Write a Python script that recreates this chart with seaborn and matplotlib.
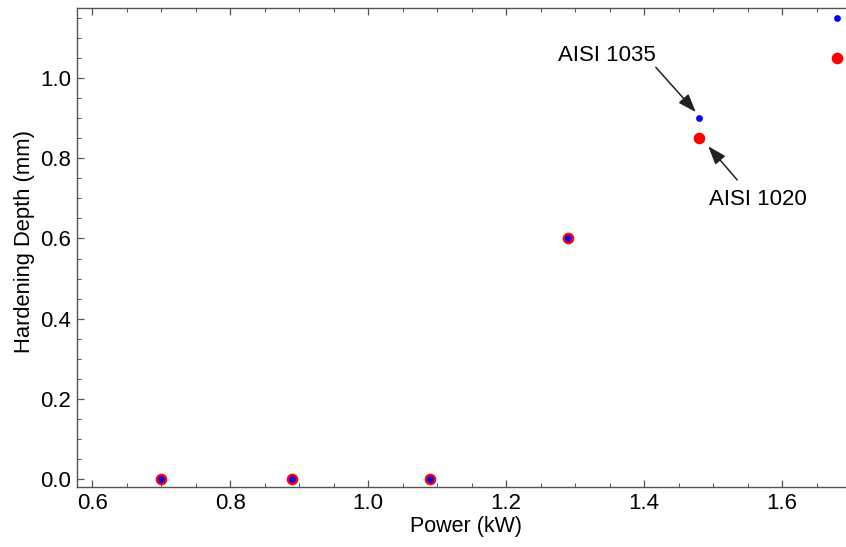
import matplotlib
matplotlib.use("Agg")
import matplotlib.pyplot as plt
from matplotlib.ticker import MultipleLocator
import seaborn as sns
import pandas as pd

power_kw = [0.70, 0.89, 1.09, 1.29, 1.48, 1.68]
depth_aisi1020 = [0.0, 0.0, 0.0, 0.60, 0.85, 1.05]
depth_aisi1035 = [0.0, 0.0, 0.0, 0.60, 0.90, 1.15]

sns.set_theme(style="ticks")
plt.rcParams["font.family"] = ["Liberation Sans", "DejaVu Sans"]

df1020 = pd.DataFrame({"Power": power_kw, "Depth": depth_aisi1020})
df1035 = pd.DataFrame({"Power": power_kw, "Depth": depth_aisi1035})

fig = plt.figure(figsize=(8.46, 5.47), dpi=100)
ax = fig.add_axes([0.091, 0.1097, 0.915, 0.8757])

sns.scatterplot(data=df1020, x="Power", y="Depth", color="#ff0000", s=70,
                linewidth=0, ax=ax, zorder=3)
sns.scatterplot(data=df1035, x="Power", y="Depth", color="#0000ff", s=24,
                linewidth=0, ax=ax, zorder=4)

ax.set_xlim(0.578, 1.70)
ax.set_ylim(-0.02, 1.175)

ax.xaxis.set_major_locator(MultipleLocator(0.2))
ax.xaxis.set_minor_locator(MultipleLocator(0.05))
ax.yaxis.set_major_locator(MultipleLocator(0.2))
ax.yaxis.set_minor_locator(MultipleLocator(0.05))
ax.xaxis.set_major_formatter(plt.FuncFormatter(lambda v, p: f"{v:.1f}"))
ax.yaxis.set_major_formatter(plt.FuncFormatter(lambda v, p: f"{v:.1f}"))

spine_col = "#555555"
for side in ["left", "bottom", "top"]:
    ax.spines[side].set_color(spine_col)
    ax.spines[side].set_linewidth(1.0)
ax.spines["right"].set_visible(False)

ax.tick_params(which="both", direction="in", top=True, right=False,
               color=spine_col, labelsize=16, labelcolor="black", pad=4)
ax.tick_params(which="major", length=5, width=0.9)
ax.tick_params(which="minor", length=3, width=0.7)

ax.set_xlabel("Power (kW)", fontsize=15.5, color="black")
ax.set_ylabel("Hardening Depth (mm)", fontsize=15.8, color="black")
ax.xaxis.set_label_coords(0.502, -0.0835)
ax.yaxis.set_label_coords(-0.068, 0.513)
ax.xaxis.label.set_va("center")
ax.yaxis.label.set_va("center")

arrow = dict(arrowstyle="-|>,head_length=0.7,head_width=0.25",
             color="#222222", lw=1.1, mutation_scale=16,
             shrinkA=0, shrinkB=0)
ax.text(1.346, 1.057, "AISI 1035", fontsize=16, ha="center", va="center",
        color="black")
ax.annotate("", xy=(1.475, 0.915), xytext=(1.417, 1.027), arrowprops=arrow)
ax.text(1.565, 0.696, "AISI 1020", fontsize=16, ha="center", va="center",
        color="black")
ax.annotate("", xy=(1.493, 0.830), xytext=(1.535, 0.746), arrowprops=arrow)

fig.savefig("out.png", dpi=100, facecolor="white")
